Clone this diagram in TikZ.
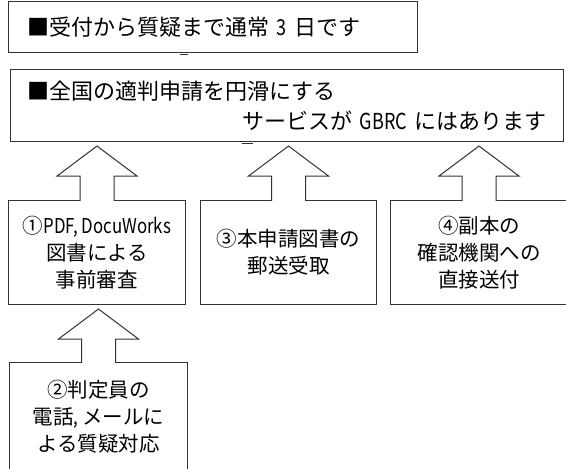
\documentclass[tikz,border=0pt]{standalone}
\usepackage{fontspec}
\setmainfont{Noto Sans CJK JP}
\newfontfamily\halfwidth[FakeStretch=0.82]{Noto Sans CJK JP}
\newcommand{\hankaku}[1]{{\halfwidth #1}}
\usetikzlibrary{calc}

\tikzset{
  box/.style={draw=black!80, line width=1pt, inner sep=0pt, align=center,
    font=\fontsize{20.5}{27}\selectfont},
  headbox/.style={box, align=left, font=\fontsize{22}{30}\selectfont},
  blockarrow/.style={draw=black!80, line width=1pt, fill=white, line join=miter},
  stub/.style={black!80, line width=1.6pt},
}

\begin{document}
\begin{tikzpicture}[x=1pt, y=-1pt]
  \clip (0,0) rectangle (566,469);

  % Top boxes
  \node[headbox, anchor=north west, minimum width=409pt, minimum height=51pt,
    text width=371pt] (days) at (8,1) {■受付から質疑まで通常 \hankaku{3} 日です};
  \node[headbox, anchor=north west, minimum width=553pt, minimum height=72pt,
    text width=519pt] (svc) at (10,69)
    {■全国の適判申請を円滑にする\\\hspace*{\fill}サービスが \hankaku{GBRC} にはあります};

  % Service boxes
  \node[box, anchor=north west, minimum width=177pt, minimum height=104pt] (pre) at (8,200)
    {①\hankaku{PDF, DocuWorks}\\図書による\\事前審査};
  \node[box, anchor=north west, minimum width=176pt, minimum height=104pt] (post) at (200,200)
    {③本申請図書の\\郵送受取};
  \node[box, anchor=north west, minimum width=177pt, minimum height=104pt] (send) at (390,200)
    {④副本の\\確認機関への\\直接送付};
  \node[box, anchor=north west, minimum width=178pt, minimum height=108pt] (mail) at (9,362)
    {②判定員の\\電話\hankaku{, }メールに\\よる質疑対応};

  % Block arrows
  \foreach \src/\dst in {pre/svc, post/svc, send/svc, mail/pre}
    \draw[blockarrow] ($(\src.north)+(-17,1)$) -- ($(\src.north |- \dst.south)+(-17,34)$)
      -- ++(-23,0) -- ($(\src.north |- \dst.south)+(0,4)$) -- ++(40,30) -- ++(-23,0)
      -- ($(\src.north)+(17,1)$);

  % Stubs
  \draw[stub] ($(days.south west)+(172,1.5)$) -- ++(8,0);
  \draw[stub] ($(svc.south west)+(232,1.5)$) -- ++(11,0);
\end{tikzpicture}
\end{document}
